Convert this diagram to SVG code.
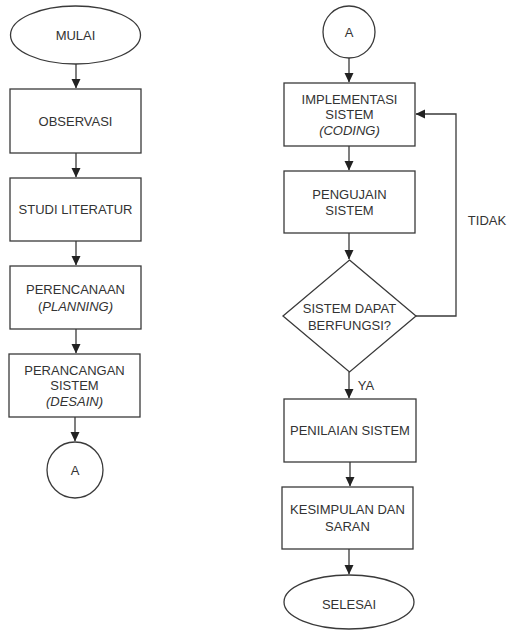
<svg xmlns="http://www.w3.org/2000/svg" width="511" height="632" viewBox="0 0 511 632">
<defs>
<style>
.n{fill:#fff;stroke:#3a3a3a;stroke-width:1.3}
.t{font-family:"Liberation Sans",Arial,sans-serif;font-size:13px;fill:#333;text-anchor:middle;dominant-baseline:central}
.i{font-style:italic}
.c{fill:none;stroke:#3a3a3a;stroke-width:1.3}
</style>
<marker id="ah" markerWidth="10" markerHeight="10" refX="9" refY="5" orient="auto" markerUnits="userSpaceOnUse">
<path d="M0,0.5 L9.5,5 L0,9.5 Z" fill="#222"/>
</marker>
</defs>
<rect width="511" height="632" fill="#fff"/>
<g id="connectors">
<line class="c" x1="76" y1="64" x2="76" y2="88" marker-end="url(#ah)"/>
<line class="c" x1="76" y1="153" x2="76" y2="177" marker-end="url(#ah)"/>
<line class="c" x1="76" y1="241" x2="76" y2="265" marker-end="url(#ah)"/>
<line class="c" x1="76" y1="329" x2="76" y2="353" marker-end="url(#ah)"/>
<line class="c" x1="75" y1="417" x2="75" y2="441" marker-end="url(#ah)"/>
<line class="c" x1="349" y1="58" x2="349" y2="82" marker-end="url(#ah)"/>
<line class="c" x1="349" y1="146" x2="349" y2="170" marker-end="url(#ah)"/>
<line class="c" x1="349" y1="233" x2="349" y2="259" marker-end="url(#ah)"/>
<polyline class="c" points="416,316 456,316 456,114 416,114" marker-end="url(#ah)"/>
<line class="c" x1="349" y1="372" x2="349" y2="398" marker-end="url(#ah)"/>
<line class="c" x1="350" y1="462" x2="350" y2="486" marker-end="url(#ah)"/>
<line class="c" x1="349" y1="549" x2="349" y2="574" marker-end="url(#ah)"/>
<text class="t" x="487" y="220">TIDAK</text>
<text class="t" x="366" y="385">YA</text>
</g>
<g id="mulai"><ellipse class="n" cx="75.5" cy="35" rx="65" ry="29"/><text class="t" x="75.5" y="35">MULAI</text></g>
<g id="observasi"><rect class="n" x="10" y="89" width="131" height="64"/><text class="t" x="75.5" y="121">OBSERVASI</text></g>
<g id="studi"><rect class="n" x="10" y="178" width="131" height="63"/><text class="t" x="75.5" y="209">STUDI LITERATUR</text></g>
<g id="perencanaan"><rect class="n" x="10" y="266" width="131" height="63"/><text class="t" x="75.5" y="289">PERENCANAAN</text><text class="t" x="75.5" y="306">(<tspan class="i">PLANNING)</tspan></text></g>
<g id="perancangan"><rect class="n" x="9" y="354" width="131" height="63"/><text class="t" x="74.5" y="370">PERANCANGAN</text><text class="t" x="74.5" y="385.5">SISTEM</text><text class="t i" x="74.5" y="401">(DESAIN)</text></g>
<g id="a-left"><circle class="n" cx="75" cy="470" r="28"/><text class="t" x="75" y="470">A</text></g>
<g id="a-right"><circle class="n" cx="349" cy="32" r="26"/><text class="t" x="349" y="32">A</text></g>
<g id="implementasi"><rect class="n" x="284" y="83" width="131" height="63"/><text class="t" x="349.5" y="99">IMPLEMENTASI</text><text class="t" x="349.5" y="114">SISTEM</text><text class="t i" x="349.5" y="130">(CODING)</text></g>
<g id="pengujian"><rect class="n" x="284" y="171" width="131" height="62"/><text class="t" x="349.5" y="194">PENGUJAIN</text><text class="t" x="349.5" y="210">SISTEM</text></g>
<g id="keputusan"><polygon class="n" points="349.5,260 416,316 349.5,372 283,316"/><text class="t" x="349.5" y="308">SISTEM DAPAT</text><text class="t" x="349.5" y="325">BERFUNGSI?</text></g>
<g id="penilaian"><rect class="n" x="284" y="399" width="132" height="63"/><text class="t" x="350" y="430">PENILAIAN SISTEM</text></g>
<g id="kesimpulan"><rect class="n" x="282" y="487" width="131" height="62"/><text class="t" x="347.5" y="509">KESIMPULAN DAN</text><text class="t" x="347.5" y="526">SARAN</text></g>
<g id="selesai"><ellipse class="n" cx="349" cy="602" rx="65" ry="27"/><text class="t" x="349" y="604">SELESAI</text></g>
</svg>
